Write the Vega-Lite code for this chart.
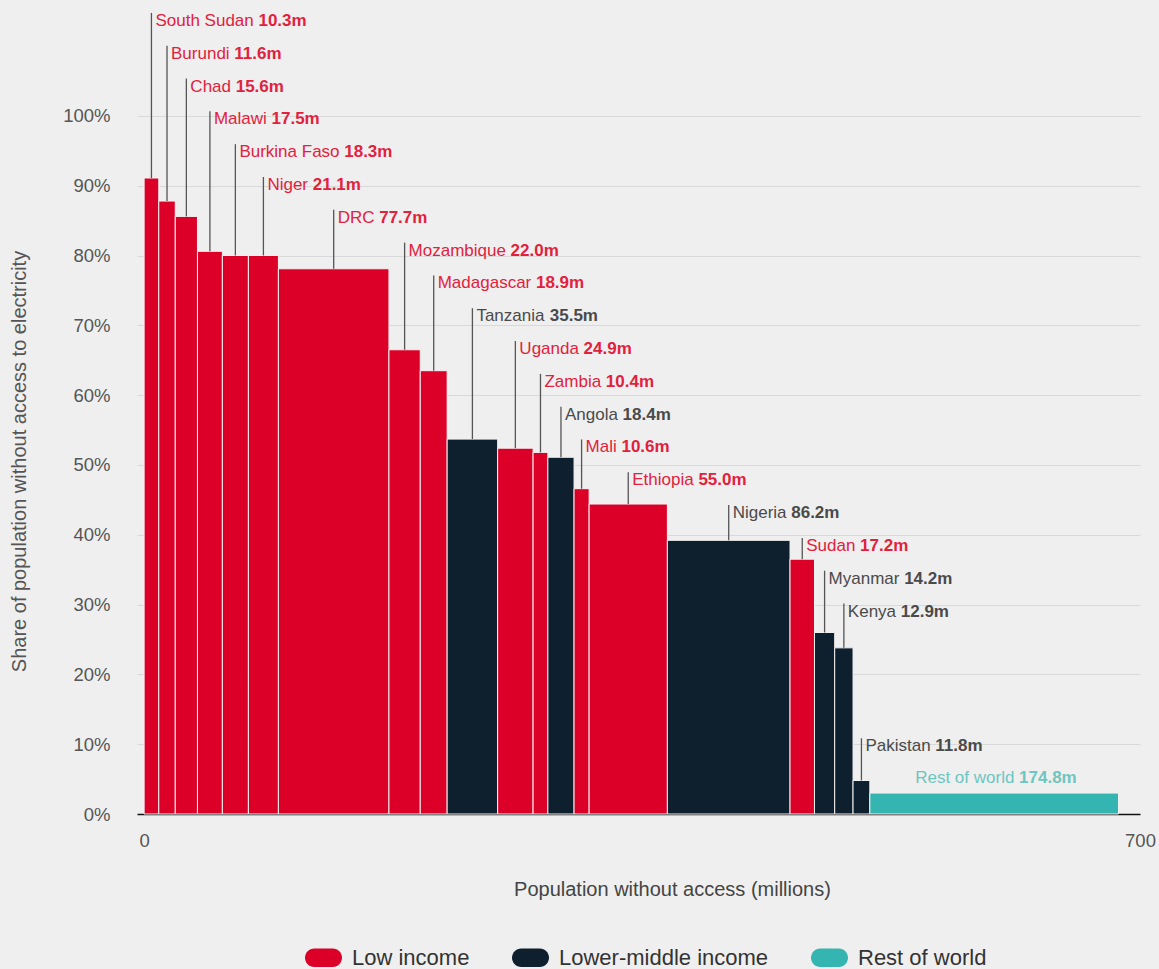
{
  "$schema": "https://vega.github.io/schema/vega-lite/v6.json",
  "autosize": {"type": "none"},
  "width": 1003,
  "height": 814,
  "padding": {"left": 137, "top": 0, "right": 19, "bottom": 155},
  "background": "#efefef",
  "config": {
    "font": "Liberation Sans",
    "view": {"stroke": null},
    "axis": {"labelFont": "Liberation Sans", "titleFont": "Liberation Sans", "titleFontWeight": "normal"},
    "legend": {"labelFont": "Liberation Sans"}
  },
  "data": {
    "values": [
      {"name": "South Sudan", "group": "Low income", "pop": 10.3, "share": 91.1},
      {"name": "Burundi", "group": "Low income", "pop": 11.6, "share": 87.8},
      {"name": "Chad", "group": "Low income", "pop": 15.6, "share": 85.6},
      {"name": "Malawi", "group": "Low income", "pop": 17.5, "share": 80.6},
      {"name": "Burkina Faso", "group": "Low income", "pop": 18.3, "share": 80.0},
      {"name": "Niger", "group": "Low income", "pop": 21.1, "share": 80.0},
      {"name": "DRC", "group": "Low income", "pop": 77.7, "share": 78.1},
      {"name": "Mozambique", "group": "Low income", "pop": 22.0, "share": 66.5},
      {"name": "Madagascar", "group": "Low income", "pop": 18.9, "share": 63.5},
      {"name": "Tanzania", "group": "Lower-middle income", "pop": 35.5, "share": 53.7},
      {"name": "Uganda", "group": "Low income", "pop": 24.9, "share": 52.4},
      {"name": "Zambia", "group": "Low income", "pop": 10.4, "share": 51.8},
      {"name": "Angola", "group": "Lower-middle income", "pop": 18.4, "share": 51.1},
      {"name": "Mali", "group": "Low income", "pop": 10.6, "share": 46.6},
      {"name": "Ethiopia", "group": "Low income", "pop": 55.0, "share": 44.4},
      {"name": "Nigeria", "group": "Lower-middle income", "pop": 86.2, "share": 39.2},
      {"name": "Sudan", "group": "Low income", "pop": 17.2, "share": 36.5},
      {"name": "Myanmar", "group": "Lower-middle income", "pop": 14.2, "share": 26.0},
      {"name": "Kenya", "group": "Lower-middle income", "pop": 12.9, "share": 23.8},
      {"name": "Pakistan", "group": "Lower-middle income", "pop": 11.8, "share": 4.8},
      {"name": "Rest of world", "group": "Rest of world", "pop": 174.8, "share": 3.0}
    ]
  },
  "transform": [
    {"window": [{"op": "row_number", "as": "idx"}, {"op": "sum", "field": "pop", "as": "x1"}], "frame": [null, 0]},
    {"calculate": "datum.x1 - datum.pop", "as": "x0"},
    {"calculate": "(datum.x0 + datum.x1) / 2", "as": "mid"},
    {"calculate": "format(datum.pop, '.1f') + 'm'", "as": "valText"},
    {"calculate": "length(datum.name)", "as": "n"},
    {"calculate": "datum.n - length(replace(datum.name, regexp('[ijl]', 'g'), ''))", "as": "w222"},
    {"calculate": "datum.n - length(replace(datum.name, regexp('[ftI .]', 'g'), ''))", "as": "w278"},
    {"calculate": "datum.n - length(replace(datum.name, regexp('[r]', 'g'), ''))", "as": "w333"},
    {"calculate": "datum.n - length(replace(datum.name, regexp('[cksvxyzJ]', 'g'), ''))", "as": "w500"},
    {"calculate": "datum.n - length(replace(datum.name, regexp('[FTZ]', 'g'), ''))", "as": "w611"},
    {"calculate": "datum.n - length(replace(datum.name, regexp('[ABEKPSVXY]', 'g'), ''))", "as": "w667"},
    {"calculate": "datum.n - length(replace(datum.name, regexp('[CDHNRUw]', 'g'), ''))", "as": "w722"},
    {"calculate": "datum.n - length(replace(datum.name, regexp('[GOQ]', 'g'), ''))", "as": "w778"},
    {"calculate": "datum.n - length(replace(datum.name, regexp('[mM]', 'g'), ''))", "as": "w833"},
    {"calculate": "datum.n - length(replace(datum.name, regexp('[W]', 'g'), ''))", "as": "w944"},
    {"calculate": "(length(datum.name) - length(replace(datum.name, regexp('Ta', 'g'), ''))) / 2", "as": "kernTa"},
    {"calculate": "17 / 1000 * (556 * datum.n - 334 * datum.w222 - 278 * datum.w278 - 223 * datum.w333 - 56 * datum.w500 + 55 * datum.w611 + 111 * datum.w667 + 166 * datum.w722 + 222 * datum.w778 + 277 * datum.w833 + 388 * datum.w944 - 74 * datum.kernTa)", "as": "nameW"},
    {"calculate": "datum.group === 'Rest of world' ? datum.mid - 79 / 1.422695 : datum.mid + 4 / 1.422695", "as": "nameX"},
    {"calculate": "datum.nameX + (datum.nameW + 4.7) / 1.422695", "as": "valX"},
    {"calculate": "datum.idx <= 19 ? 113.6 - 4.70 * (datum.idx - 1) : (datum.group === 'Rest of world' ? datum.share + 2.1 : datum.share + 4.9)", "as": "labelY"},
    {"calculate": "datum.labelY + 1.15", "as": "lineTop"}
  ],
  "layer": [
    {
      "mark": {"type": "rect", "stroke": "#f2f2f2", "strokeWidth": 1},
      "encoding": {
        "x": {
          "field": "x0", "type": "quantitative",
          "scale": {"domain": [-5, 700], "nice": false, "zero": false},
          "axis": {
            "values": [0, 700],
            "title": "Population without access (millions)",
            "grid": false, "ticks": false, "tickSize": 0,
            "domain": true, "domainColor": "#111111", "domainWidth": 1.5,
            "labelFontSize": 18.5, "labelColor": "#555555", "labelPadding": 26,
            "labelBaseline": "middle", "labelFlush": false,
            "titleFontSize": 20, "titleColor": "#444444",
            "titleX": 535, "titleY": 75, "titleBaseline": "middle", "titleAnchor": "middle"
          }
        },
        "x2": {"field": "x1"},
        "y": {
          "field": "share", "type": "quantitative",
          "scale": {"domain": [0, 116.6], "nice": false},
          "axis": {
            "values": [0, 10, 20, 30, 40, 50, 60, 70, 80, 90, 100],
            "labelExpr": "datum.value + '%'",
            "title": "Share of population without access to electricity",
            "grid": true, "gridColor": "#d9d9d9", "gridWidth": 1,
            "ticks": false, "tickSize": 0, "domain": false,
            "labelFontSize": 18.5, "labelColor": "#555555", "labelPadding": 27,
            "titleFontSize": 20, "titleColor": "#555555",
            "titleX": -118, "titleY": 461, "titleBaseline": "middle", "titleAnchor": "middle"
          }
        },
        "y2": {"datum": 0},
        "color": {
          "field": "group", "type": "nominal",
          "scale": {
            "domain": ["Low income", "Lower-middle income", "Rest of world"],
            "range": ["#dc0029", "#0e1f2e", "#35b5b1"]
          },
          "legend": {
            "title": null,
            "orient": "none",
            "direction": "horizontal",
            "legendX": 168,
            "legendY": 939,
            "symbolType": "M-0.5,-0.5L0.5,-0.5A0.5,0.5,0,0,1,0.5,0.5L-0.5,0.5A0.5,0.5,0,0,1,-0.5,-0.5Z",
            "symbolSize": 1369,
            "symbolStrokeWidth": 0,
            "symbolOpacity": 1,
            "labelFontSize": 22,
            "labelColor": "#333333",
            "labelOffset": 10,
            "labelLimit": 0,
            "columnPadding": 42
          }
        }
      }
    },
    {
      "transform": [{"filter": "datum.group !== 'Rest of world'"}],
      "mark": {"type": "rule", "color": "#555555", "strokeWidth": 1.3},
      "encoding": {
        "x": {"field": "mid", "type": "quantitative"},
        "y": {"field": "share", "type": "quantitative"},
        "y2": {"field": "lineTop"}
      }
    },
    {
      "mark": {"type": "text", "align": "left", "baseline": "middle", "fontSize": 17, "fontWeight": "normal"},
      "encoding": {
        "x": {"field": "nameX", "type": "quantitative"},
        "y": {"field": "labelY", "type": "quantitative"},
        "text": {"field": "name"},
        "color": {
          "field": "group", "type": "nominal",
          "scale": {
            "domain": ["Low income", "Lower-middle income", "Rest of world"],
            "range": ["#e2213d", "#4a4a4a", "#6cc6c1"]
          },
          "legend": null
        }
      }
    },
    {
      "mark": {"type": "text", "align": "left", "baseline": "middle", "fontSize": 17, "fontWeight": "bold"},
      "encoding": {
        "x": {"field": "valX", "type": "quantitative"},
        "y": {"field": "labelY", "type": "quantitative"},
        "text": {"field": "valText"},
        "color": {
          "field": "group", "type": "nominal",
          "scale": {
            "domain": ["Low income", "Lower-middle income", "Rest of world"],
            "range": ["#e2213d", "#4a4a4a", "#6cc6c1"]
          },
          "legend": null
        }
      }
    }
  ],
  "resolve": {"scale": {"color": "independent"}}
}
